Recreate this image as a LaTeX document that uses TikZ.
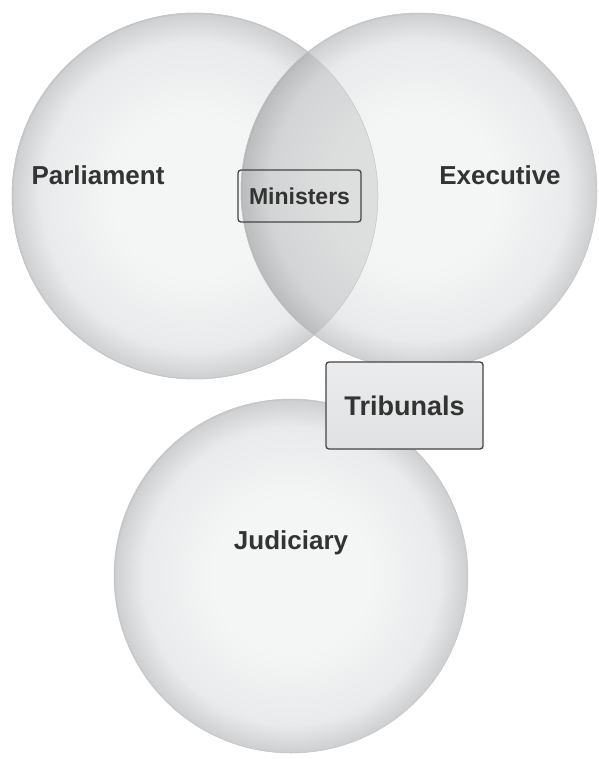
\documentclass[tikz,border=0pt]{standalone}
\usepackage{fontspec}
\setmainfont{Liberation Sans}
\usepackage{tikz}
\usetikzlibrary{positioning}
\definecolor{ballin}{HTML}{F4F5F5}
\definecolor{ballmid}{HTML}{E9EAEB}
\definecolor{ballout}{HTML}{CFD0D1}
\definecolor{rim}{HTML}{C4C5C6}
\definecolor{ink}{HTML}{333333}
\definecolor{boxline}{HTML}{444444}
\definecolor{boxtop}{HTML}{EBECED}
\definecolor{boxbot}{HTML}{E0E1E2}
\pgfdeclareradialshading{ball}{\pgfpoint{0bp}{0bp}}{color(0bp)=(ballin); color(11bp)=(ballin); color(21bp)=(ballmid); color(24.8bp)=(ballout); color(25bp)=(rim); color(100bp)=(rim)}

\begin{document}
\begin{tikzpicture}[x=1pt,y=-1pt]
  \tikzstyle{branch}=[circle,inner sep=0pt,shade,shading=ball,draw=rim,line width=0.5pt]
  \tikzstyle{branchlabel}=[text=ink,font=\fontsize{26}{30}\selectfont\bfseries]
  \tikzstyle{sharedbox}=[rounded corners=3pt,draw=boxline,line width=1.3pt,text=ink]
  \useasboundingbox (0,0) rectangle (598,759);
  % the three branches
  \node[branch,minimum size=354pt] (jud) at (291,576) {};
  \node[branch,minimum size=366pt] (parl) at (195,196) {};
  \node[branch,minimum size=356pt] (exec) at (419,191) {};
  % where parliament and executive meet
  \begin{scope}
    \clip (parl.center) circle (183);
    \fill[black,opacity=0.09] (exec.center) circle (178);
    \draw[rim,line width=0.5pt] (exec.center) circle (178);
  \end{scope}
  \draw[rim,line width=0.5pt] (parl.center) circle (183);
  % labels
  \node[branchlabel] (parltext) at (98,175) {Parliament};
  \node[branchlabel] (exectext) at (500,175) {Executive};
  \node[branchlabel] (judtext) at (291,543) {Judiciary};
  % bodies shared between branches
  \node[sharedbox,minimum width=123pt,minimum height=52pt,font=\fontsize{23}{27}\selectfont\bfseries] (min) at (299.5,196) {Ministers};
  \node[sharedbox,minimum width=157pt,minimum height=87pt,top color=boxtop,bottom color=boxbot,font=\fontsize{27}{31}\selectfont\bfseries] (trib) at (404.5,405.5) {Tribunals};
\end{tikzpicture}
\end{document}
